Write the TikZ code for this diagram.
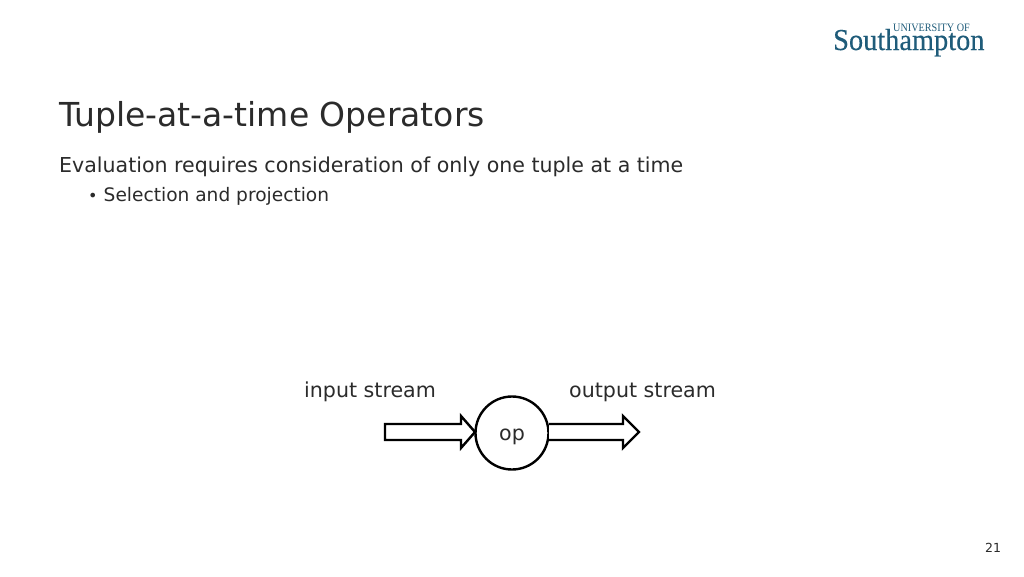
\documentclass[tikz,border=0pt]{standalone}
\usepackage{fontspec}
\setmainfont{DejaVu Sans}
\newfontfamily\logofont[FakeStretch=0.9]{Liberation Serif}
\newfontfamily\logomainfont[FakeStretch=0.93,FakeBold=0.25]{Liberation Serif}
\definecolor{txt}{HTML}{2B2B2B}
\definecolor{logoc}{HTML}{1F5C7A}
\begin{document}
\begin{tikzpicture}[x=1pt,y=-1pt,
  lbl/.style={anchor=base west,inner sep=0pt,text=txt},
  blockarrow/.style={draw=black,line width=2.4pt,fill=white,line join=miter}]
\useasboundingbox[fill=white] (0,0) rectangle (1024,576);
\node[lbl] (logotop) at (893,31) {\logofont\fontsize{11.3}{12}\selectfont\color{logoc}UNIVERSITY OF};
\node[lbl] (logomain) at (833,50) {\logomainfont\fontsize{30.5}{32}\selectfont\color{logoc}Southampton};
\node[lbl] (title) at (59,126) {\fontsize{33}{36}\selectfont Tuple-at-a-time Operators};
\node[lbl] (body) at (59,172) {\fontsize{20.55}{24}\selectfont Evaluation requires consideration of only one tuple at a time};
\node[lbl] (bullet) at (88,201) {\fontsize{16}{20}\selectfont •};
\node[lbl] (sub) at (103.5,201) {\fontsize{18.6}{20}\selectfont Selection and projection};
\node[lbl] (inp) at (304,397) {\fontsize{20.6}{24}\selectfont input stream};
\node[lbl] (outp) at (569,397) {\fontsize{20.6}{24}\selectfont output stream};
\node[draw=black,line width=2.4pt,circle,minimum size=73pt,inner sep=0pt,text=txt,font=\fontsize{20.6}{24}\selectfont] (op) at (512,433) {\raisebox{-7.7pt}[0pt][0pt]{op}};
\node[lbl] (page) at (985,552) {\fontsize{12.5}{14}\selectfont 21};
\draw[blockarrow] (385,424) -- (461,424) -- (461,416) -- (475,432) -- (461,448) -- (461,440) -- (385,440) -- cycle;
\draw[blockarrow] (549,424) -- (623,424) -- (623,416) -- (639,432) -- (623,448) -- (623,440) -- (549,440);
\end{tikzpicture}
\end{document}
